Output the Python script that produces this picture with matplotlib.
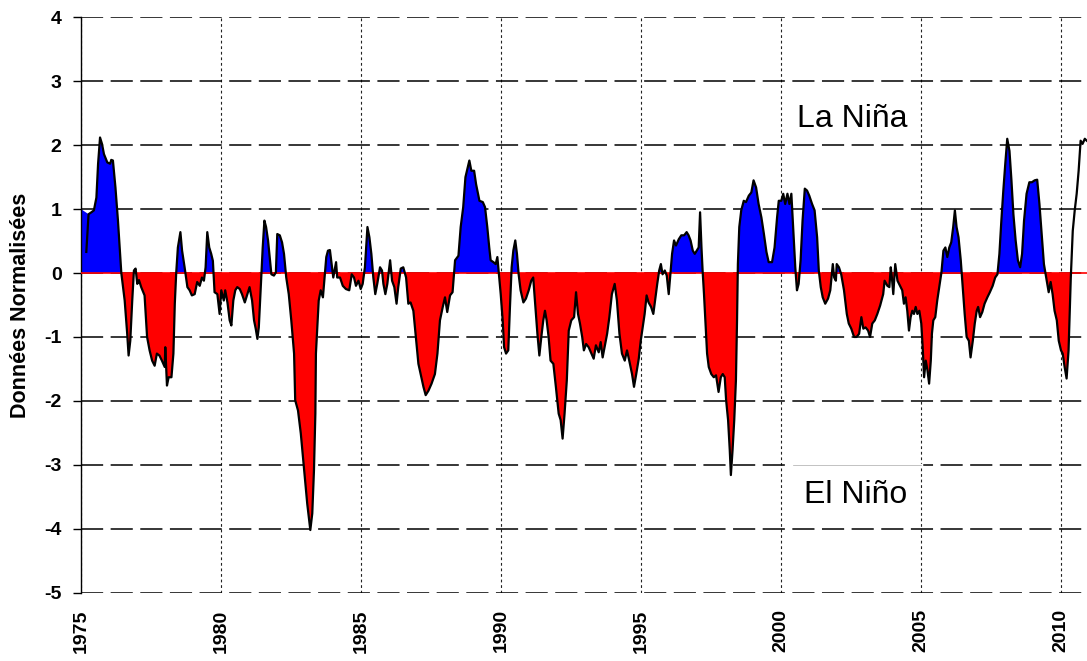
import numpy as np
import matplotlib
matplotlib.use("Agg")
import matplotlib.pyplot as plt

# normalised index (decimal year, value)
years = [
    1975.19, 1975.27, 1975.37, 1975.46, 1975.55, 1975.61, 1975.68, 1975.75, 1975.82, 1975.94,
    1976.04, 1976.08, 1976.14, 1976.23, 1976.32, 1976.44, 1976.56, 1976.65, 1976.70, 1976.76,
    1976.83, 1976.89, 1976.95, 1977.01, 1977.07, 1977.15, 1977.27, 1977.36, 1977.45, 1977.54,
    1977.63, 1977.71, 1977.80, 1977.89, 1977.99, 1978.01, 1978.07, 1978.13, 1978.23, 1978.30,
    1978.35, 1978.40, 1978.46, 1978.55, 1978.61, 1978.70, 1978.80, 1978.88, 1978.96, 1979.06,
    1979.15, 1979.24, 1979.32, 1979.39, 1979.45, 1979.51, 1979.58, 1979.65, 1979.71, 1979.77,
    1979.87, 1979.95, 1980.01, 1980.10, 1980.15, 1980.23, 1980.31, 1980.37, 1980.44, 1980.51,
    1980.58, 1980.67, 1980.75, 1980.85, 1980.94, 1981.02, 1981.11, 1981.18, 1981.24, 1981.30,
    1981.35, 1981.42, 1981.49, 1981.55, 1981.61, 1981.68, 1981.74, 1981.80, 1981.89, 1981.96,
    1982.01, 1982.10, 1982.18, 1982.25, 1982.33, 1982.42, 1982.51, 1982.61, 1982.65, 1982.75,
    1982.85, 1982.96, 1983.08, 1983.19, 1983.26, 1983.32, 1983.37, 1983.39, 1983.44, 1983.49,
    1983.56, 1983.64, 1983.70, 1983.76, 1983.82, 1983.89, 1983.95, 1984.01, 1984.11, 1984.15,
    1984.25, 1984.35, 1984.46, 1984.58, 1984.67, 1984.75, 1984.82, 1984.91, 1984.99, 1985.06,
    1985.14, 1985.23, 1985.30, 1985.37, 1985.44, 1985.51, 1985.58, 1985.68, 1985.75, 1985.80,
    1985.87, 1985.94, 1986.04, 1986.11, 1986.19, 1986.27, 1986.33, 1986.42, 1986.51, 1986.61,
    1986.69, 1986.77, 1986.87, 1986.96, 1987.05, 1987.13, 1987.23, 1987.31, 1987.41, 1987.52,
    1987.64, 1987.73, 1987.82, 1987.92, 1988.00, 1988.08, 1988.18, 1988.27, 1988.36, 1988.48,
    1988.56, 1988.65, 1988.73, 1988.80, 1988.87, 1988.94, 1989.04, 1989.11, 1989.23, 1989.35,
    1989.43, 1989.51, 1989.58, 1989.63, 1989.73, 1989.81, 1989.87, 1989.92, 1989.99, 1990.06,
    1990.11, 1990.18, 1990.26, 1990.32, 1990.38, 1990.44, 1990.51, 1990.57, 1990.63, 1990.70,
    1990.80, 1990.89, 1990.99, 1991.08, 1991.15, 1991.23, 1991.30, 1991.37, 1991.44, 1991.51,
    1991.57, 1991.63, 1991.70, 1991.77, 1991.87, 1991.96, 1992.06, 1992.13, 1992.20, 1992.27,
    1992.35, 1992.42, 1992.51, 1992.61, 1992.68, 1992.75, 1992.82, 1992.90, 1992.96, 1993.04,
    1993.13, 1993.23, 1993.31, 1993.39, 1993.49, 1993.56, 1993.63, 1993.70, 1993.79, 1993.87,
    1993.96, 1994.06, 1994.14, 1994.23, 1994.32, 1994.42, 1994.50, 1994.58, 1994.68, 1994.75,
    1994.83, 1994.92, 1994.99, 1995.06, 1995.13, 1995.20, 1995.27, 1995.36, 1995.44, 1995.51,
    1995.58, 1995.65, 1995.71, 1995.77, 1995.85, 1995.92, 1995.99, 1996.05, 1996.11, 1996.18,
    1996.25, 1996.35, 1996.44, 1996.54, 1996.63, 1996.70, 1996.77, 1996.85, 1996.92, 1996.99,
    1997.06, 1997.11, 1997.16, 1997.20, 1997.25, 1997.30, 1997.36, 1997.42, 1997.51, 1997.60,
    1997.68, 1997.77, 1997.85, 1997.92, 1997.99, 1998.04, 1998.11, 1998.17, 1998.21, 1998.27,
    1998.33, 1998.39, 1998.43, 1998.46, 1998.51, 1998.58, 1998.67, 1998.75, 1998.85, 1998.94,
    1999.02, 1999.11, 1999.20, 1999.30, 1999.39, 1999.48, 1999.56, 1999.68, 1999.77, 1999.86,
    1999.92, 2000.01, 2000.08, 2000.15, 2000.23, 2000.30, 2000.37, 2000.44, 2000.51, 2000.57,
    2000.63, 2000.70, 2000.77, 2000.85, 2000.93, 2001.01, 2001.11, 2001.20, 2001.29, 2001.35,
    2001.42, 2001.49, 2001.58, 2001.68, 2001.76, 2001.85, 2001.90, 2001.96, 2001.99, 2002.07,
    2002.15, 2002.25, 2002.35, 2002.42, 2002.51, 2002.61, 2002.70, 2002.79, 2002.87, 2002.94,
    2003.02, 2003.11, 2003.18, 2003.26, 2003.35, 2003.44, 2003.54, 2003.65, 2003.70, 2003.80,
    2003.87, 2003.92, 2003.96, 2004.01, 2004.08, 2004.16, 2004.25, 2004.33, 2004.39, 2004.45,
    2004.51, 2004.57, 2004.63, 2004.69, 2004.75, 2004.81, 2004.87, 2004.94, 2005.01, 2005.06,
    2005.11, 2005.17, 2005.23, 2005.29, 2005.35, 2005.39, 2005.44, 2005.51, 2005.58, 2005.65,
    2005.73, 2005.80, 2005.87, 2005.94, 2006.01, 2006.08, 2006.15, 2006.21, 2006.27, 2006.34,
    2006.42, 2006.49, 2006.56, 2006.63, 2006.71, 2006.77, 2006.85, 2006.92, 2006.99, 2007.04,
    2007.11, 2007.19, 2007.27, 2007.37, 2007.46, 2007.56, 2007.65, 2007.73, 2007.80, 2007.87,
    2007.94, 2008.01, 2008.08, 2008.16, 2008.23, 2008.30, 2008.38, 2008.46, 2008.54, 2008.61,
    2008.68, 2008.77, 2008.87, 2008.96, 2009.06, 2009.15, 2009.23, 2009.30, 2009.39, 2009.49,
    2009.56, 2009.63, 2009.70, 2009.77, 2009.85, 2009.92, 2010.00, 2010.06, 2010.13, 2010.20,
    2010.27, 2010.35, 2010.42, 2010.49, 2010.56, 2010.63, 2010.70, 2010.77, 2010.85, 2010.92,
]
values = [
    0.33, 0.92, 0.95, 0.98, 1.18, 1.71, 2.12, 2.02, 1.86, 1.73,
    1.71, 1.77, 1.76, 1.34, 0.82, 0.00, -0.43, -0.95, -1.29, -1.06,
    -0.43, 0.04, 0.07, -0.17, -0.11, -0.22, -0.35, -1.00, -1.21, -1.37,
    -1.45, -1.26, -1.29, -1.37, -1.47, -1.16, -1.76, -1.63, -1.63, -1.26,
    -0.48, 0.00, 0.40, 0.64, 0.35, 0.09, -0.22, -0.27, -0.35, -0.33,
    -0.14, -0.20, -0.07, -0.12, 0.09, 0.64, 0.40, 0.30, 0.19, -0.30,
    -0.33, -0.64, -0.27, -0.43, -0.27, -0.46, -0.74, -0.82, -0.43, -0.27,
    -0.22, -0.25, -0.33, -0.46, -0.33, -0.22, -0.43, -0.74, -0.87, -1.03,
    -0.85, -0.22, 0.40, 0.82, 0.72, 0.51, 0.25, -0.02, -0.04, 0.01,
    0.61, 0.59, 0.48, 0.30, -0.07, -0.33, -0.74, -1.26, -1.99, -2.15,
    -2.51, -3.03, -3.61, -4.02, -3.76, -3.09, -2.20, -1.26, -0.85, -0.43,
    -0.27, -0.38, -0.07, 0.25, 0.35, 0.36, 0.14, -0.07, 0.17, -0.07,
    -0.07, -0.20, -0.25, -0.27, -0.02, -0.07, -0.20, -0.12, -0.25, -0.17,
    0.09, 0.72, 0.56, 0.30, -0.07, -0.33, -0.17, 0.09, 0.04, -0.17,
    -0.33, -0.17, 0.20, -0.12, -0.22, -0.48, -0.22, 0.07, 0.09, -0.07,
    -0.48, -0.46, -0.59, -1.00, -1.42, -1.58, -1.78, -1.91, -1.84, -1.73,
    -1.58, -1.26, -0.74, -0.53, -0.38, -0.61, -0.35, -0.30, 0.20, 0.27,
    0.72, 1.03, 1.50, 1.63, 1.76, 1.60, 1.60, 1.39, 1.13, 1.11,
    1.03, 0.72, 0.40, 0.20, 0.17, 0.14, 0.25, 0.01, -0.33, -0.74,
    -1.16, -1.26, -1.21, -0.53, 0.09, 0.35, 0.51, 0.30, -0.02, -0.27,
    -0.46, -0.40, -0.27, -0.12, -0.07, -0.53, -0.95, -1.29, -1.00, -0.74,
    -0.59, -0.74, -1.00, -1.37, -1.42, -1.78, -2.20, -2.30, -2.59, -2.20,
    -1.68, -0.90, -0.74, -0.69, -0.30, -0.64, -0.79, -1.00, -1.21, -1.11,
    -1.16, -1.26, -1.34, -1.13, -1.24, -1.08, -1.32, -1.16, -0.95, -0.69,
    -0.33, -0.17, -0.43, -0.95, -1.26, -1.37, -1.21, -1.37, -1.58, -1.78,
    -1.58, -1.34, -1.06, -0.85, -0.64, -0.35, -0.46, -0.53, -0.64, -0.40,
    -0.17, 0.04, 0.14, -0.02, 0.04, -0.04, -0.33, -0.02, 0.30, 0.51,
    0.43, 0.53, 0.59, 0.59, 0.64, 0.59, 0.51, 0.35, 0.30, 0.35,
    0.40, 0.95, 0.40, 0.04, -0.33, -0.74, -1.26, -1.47, -1.58, -1.63,
    -1.60, -1.86, -1.63, -1.58, -1.63, -1.99, -2.30, -2.77, -3.16, -2.77,
    -2.30, -1.68, -0.74, 0.14, 0.72, 0.98, 1.13, 1.11, 1.21, 1.26,
    1.45, 1.34, 1.08, 0.87, 0.61, 0.33, 0.17, 0.17, 0.40, 0.87,
    1.13, 1.13, 1.24, 1.08, 1.24, 1.08, 1.24, 0.66, 0.09, -0.27,
    -0.17, 0.20, 0.82, 1.32, 1.29, 1.21, 1.08, 0.98, 0.56, 0.04,
    -0.22, -0.38, -0.48, -0.40, -0.27, 0.14, -0.07, -0.12, 0.14, 0.09,
    -0.02, -0.27, -0.64, -0.79, -0.87, -1.00, -1.00, -0.95, -0.69, -0.87,
    -0.85, -0.90, -1.00, -0.79, -0.74, -0.64, -0.51, -0.33, -0.12, -0.20,
    -0.22, 0.09, -0.07, -0.33, 0.14, -0.12, -0.20, -0.27, -0.48, -0.38,
    -0.59, -0.90, -0.69, -0.59, -0.64, -0.53, -0.64, -0.59, -0.79, -1.16,
    -1.63, -1.37, -1.52, -1.73, -1.37, -0.95, -0.74, -0.69, -0.43, -0.22,
    0.01, 0.35, 0.40, 0.25, 0.40, 0.48, 0.72, 0.98, 0.72, 0.56,
    0.20, -0.22, -0.64, -1.00, -1.06, -1.32, -1.06, -0.79, -0.59, -0.53,
    -0.69, -0.61, -0.48, -0.38, -0.30, -0.20, -0.07, -0.02, 0.30, 0.82,
    1.29, 1.71, 2.10, 1.91, 1.45, 0.92, 0.51, 0.20, 0.09, 0.30,
    0.82, 1.24, 1.42, 1.42, 1.45, 1.46, 1.08, 0.66, 0.14, -0.12,
    -0.30, -0.14, -0.33, -0.59, -0.74, -1.06, -1.21, -1.26, -1.47, -1.65,
    -1.21, -0.07, 0.66, 0.98, 1.24, 1.60, 2.07, 2.02, 2.10, 2.07,
]

# the shaded area series starts a little earlier and stops before the last rise
area_first = (1975.0, 1.0)
area_last_year = 2010.35

xticks = [1975, 1980, 1985, 1990, 1995, 2000, 2005, 2010]
yticks = [4, 3, 2, 1, 0, -1, -2, -3, -4, -5]

plt.rcParams['font.family'] = ['Liberation Sans', 'DejaVu Sans']
plt.rcParams['axes.unicode_minus'] = False

W, H = 1087, 661
fig = plt.figure(figsize=(W / 100, H / 100), dpi=100)
ax = fig.add_axes([81 / W, 1 - 592.7 / H, 1 - 81 / W, 575.4 / H])

x = np.array(years)
y = np.array(values)
keep = x <= area_last_year
fx = np.concatenate([[area_first[0]], x[1:][keep[1:]]])
fy = np.concatenate([[area_first[1]], y[1:][keep[1:]]])
ax.fill_between(fx, fy, 0, where=fy >= 0, interpolate=True, color='#0000ff', lw=0, zorder=2)
ax.fill_between(fx, fy, 0, where=fy <= 0, interpolate=True, color='#ff0000', lw=0, zorder=2)
ax.axhline(0, color='#ff0000', lw=1.2, zorder=3)
ax.plot(x, y, color='black', lw=1.6, solid_joinstyle='round', zorder=4)

ax.set_xlim(1975, 1975 + (W - 81) / 28)
ax.set_ylim(-5, 4)
ax.set_xticks(xticks)
ax.set_yticks(yticks)
ax.set_xticklabels([str(t) for t in xticks], rotation=90, fontsize=14, fontweight='bold')
ax.set_yticklabels([str(t) for t in yticks], fontsize=14, fontweight='bold')
ax.tick_params(axis='x', length=0, pad=12)
ax.tick_params(axis='y', length=6, width=1, pad=8)

ax.yaxis.grid(True, color='black', lw=1.1, ls=(0, (14.5, 4.9)))
ax.xaxis.grid(True, color='#222222', lw=0.8, ls=(0, (2.5, 2.5)))
ax.set_axisbelow(True)
for s in ['top', 'right', 'bottom']:
    ax.spines[s].set_visible(False)
ax.spines['left'].set_linewidth(1.0)

ax.set_ylabel('Données Normalisées', fontsize=15.5, fontweight='bold')
ax.yaxis.set_label_coords(-0.05, 0.5)

# label box covering part of the -3 gridline
ax.plot([2000.43, 2005.0], [-3, -3], color='white', lw=2.5, zorder=1.5)
ax.plot([2000.43, 2005.0], [-3, -3], color='#aaaaaa', lw=0.5, zorder=1.6)

ax.text(2002.54, 2.29, 'La Niña', fontsize=23, ha='center', va='baseline')
ax.text(2002.68, -3.59, 'El Niño', fontsize=23, ha='center', va='baseline')

fig.savefig('out.png', dpi=100)
